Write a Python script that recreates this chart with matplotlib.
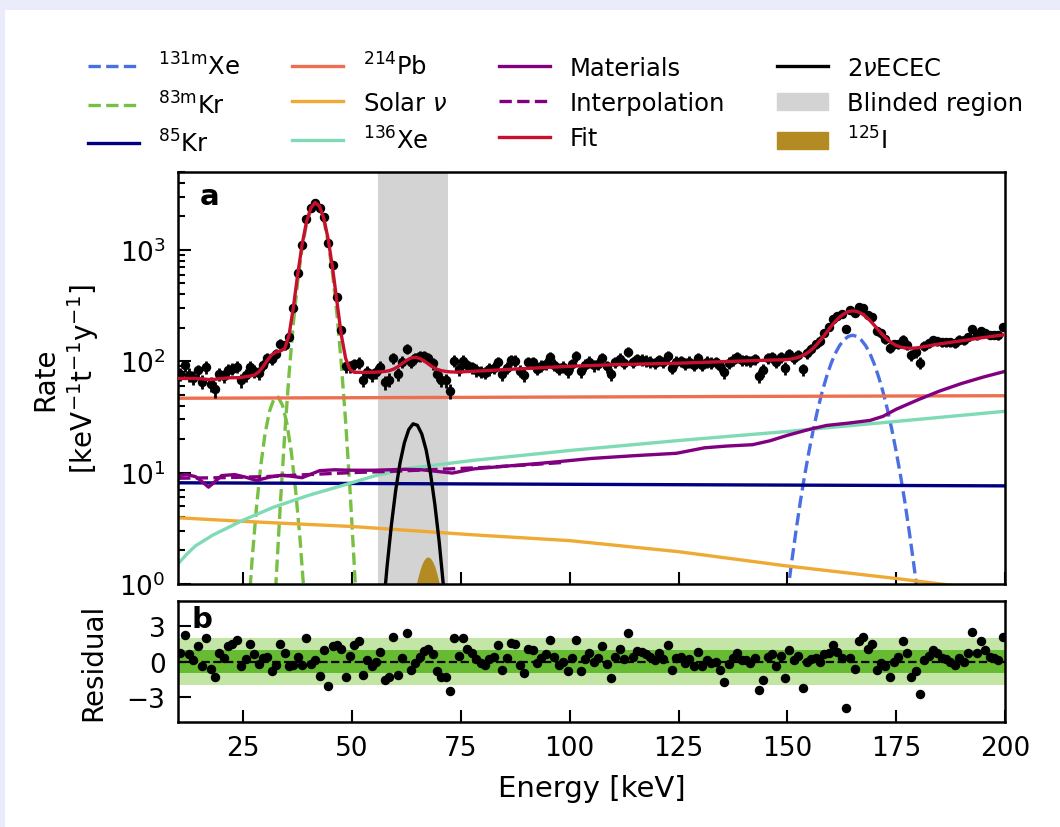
import numpy as np
import matplotlib
matplotlib.use("Agg")
import matplotlib.pyplot as plt
from matplotlib.patches import Patch, Rectangle

plt.rcParams['font.family'] = ['DejaVu Sans']
plt.rcParams['mathtext.fontset'] = 'dejavusans'

## measured spectrum, 1 keV bins
energy = np.arange(10.5, 200, 1.0)
rate = [
    76.9, 92.0, 75.9, 71.0, 82.7, 65.6, 88.4, 62.7, 55.9, 76.3,
    73.4, 83.8, 85.8, 88.7, 67.5, 74.5, 88.5, 81.1, 77.9, 92.3,
    106.4, 104.0, 117.1, 142.9, 138.9, 165.4, 299.5, 617, 1104, 1875,
    2365, 2659, 2395, 1961, 1157, 729, 374, 190, 90.3, 89.8,
    94.1, 97.2, 68.0, 80.5, 75.3, 79.5, 88.7, 64.6, 68.4, 107.5,
    77.1, 98.7, 129.9, 98.4, 107.2, 111.0, 111.5, 107.1, 95.5, 76.2,
    68.5, 67.3, 54.0, 100.9, 85.0, 101.1, 92.1, 88.3, 83.5, 80.7,
    79.0, 84.7, 87.3, 98.4, 76.3, 87.4, 101.8, 101.2, 82.2, 74.9,
    98.1, 97.5, 85.9, 90.7, 94.4, 108.0, 93.0, 85.7, 89.4, 80.9,
    93.5, 110.5, 81.8, 93.3, 99.2, 91.7, 95.3, 106.9, 90.3, 77.1,
    97.6, 105.7, 95.8, 120.9, 98.4, 104.3, 103.4, 101.3, 99.2, 96.0,
    103.0, 97.6, 111.4, 87.7, 99.3, 100.7, 95.3, 99.0, 92.5, 106.6,
    93.0, 99.1, 97.1, 98.6, 90.7, 79.3, 97.1, 103.3, 108.2, 101.5,
    101.8, 99.8, 104.8, 73.3, 83.5, 106.9, 109.6, 98.0, 109.0, 86.8,
    115.9, 107.0, 114.4, 84.3, 117.9, 128.7, 141.7, 152.5, 180.0, 203.7,
    239.7, 252.8, 263.4, 196.4, 287.2, 270.0, 307.8, 300.5, 262.3, 247.2,
    187.7, 178.5, 158.1, 132.7, 142.2, 141.7, 155.7, 140.8, 113.6, 120.8,
    96.7, 136.7, 144.4, 153.5, 151.7, 148.2, 148.7, 147.8, 145.4, 155.9,
    153.6, 165.9, 194.6, 170.3, 187.3, 179.0, 172.0, 172.6, 171.5, 204.2,
]
residual = [
    0.7, 2.25, 0.6, 0.1, 1.3, -0.4, 2.0, -0.6, -1.3, 0.7,
    0.3, 1.3, 1.5, 1.8, -0.4, 0.2, 1.5, 0.6, -0.2, 0.3,
    0.4, -0.8, -0.3, 1.5, 0.7, -0.4, -0.3, 0.4, -0.3, 2.0,
    -0.2, 0.1, -1.2, 1.0, -2.05, 1.3, 1.4, 1.1, -1.3, 0.5,
    1.4, 1.7, -1.1, 0.1, -0.4, 0.0, 0.8, -1.55, -1.3, 2.1,
    -1.1, 0.3, 2.4, -0.7, -0.1, 0.4, 0.9, 1.1, 0.6, -0.8,
    -1.3, -1.3, -2.5, 2.0, 0.5, 2.0, 1.1, 0.7, 0.2, -0.1,
    -0.3, 0.2, 0.4, 1.4, -0.7, 0.3, 1.6, 1.5, -0.3, -1.0,
    1.1, 1.0, -0.1, 0.3, 0.6, 1.8, 0.4, -0.3, 0.0, -0.8,
    0.3, 1.8, -0.8, 0.2, 0.7, 0.0, 0.3, 1.3, -0.2, -1.4,
    0.4, 1.1, 0.2, 2.4, 0.4, 0.9, 0.8, 0.6, 0.4, 0.1,
    0.7, 0.2, 1.4, -0.7, 0.3, 0.4, -0.1, 0.2, -0.4, 0.8,
    -0.4, 0.1, -0.1, 0.0, -0.7, -1.7, -0.2, 0.3, 0.7, 0.1,
    0.1, -0.1, 0.3, -2.4, -1.55, 0.4, 0.6, -0.4, 0.5, -1.4,
    1.0, 0.1, 0.5, -2.25, 0.0, 0.2, 0.3, 0.0, 0.6, 0.7,
    1.4, 0.8, 0.3, -3.95, 0.3, -0.6, 1.7, 2.1, 1.1, 1.5,
    -0.7, -0.1, -0.4, -1.3, 0.0, 0.4, 1.7, 0.7, -1.3, -0.8,
    -2.7, 0.1, 0.5, 1.0, 0.7, 0.3, 0.2, 0.0, -0.3, 0.3,
    0.0, 0.7, 2.5, 0.7, 1.7, 1.0, 0.4, 0.3, 0.1, 2.1,
]
exposure = 0.73  # t*y, poisson error bars

## model components
xe131_e = np.arange(150, 181, 1.0)
xe131 = [0.79, 1.57, 3.0, 5.5, 9.5, 15.6, 24.6, 37, 53, 72, 94, 117, 138, 155, 167, 171,
         167, 155, 138, 117, 94, 72, 53, 37, 24.6, 15.6, 9.5, 5.5, 3.0, 1.57, 0.79]

kr83_e = [32, 32.5, 33.5, 34.5, 35.5, 36.5, 37.5, 38.5, 39.5, 40.5, 41.5, 42.5, 43.5,
          44.5, 45.5, 46.5, 47.5, 48.5, 49.5, 50.5, 51]
kr83 = [0.43, 1.03, 5.2, 21.9, 76.6, 221, 527, 1040, 1701, 2301, 2578, 2390, 1834,
        1165, 613, 267, 96, 28.7, 7.1, 1.44, 0.61]
kr83_low_e = np.arange(26, 41, 1.0)
kr83_low = [0.45, 1.63, 4.8, 11.5, 22.5, 35.5, 45.6, 47.6, 40.2, 27.7, 15.5, 7.0, 2.6, 0.77, 0.19]

kr85_e = [10, 100, 200]
kr85 = [8.1, 7.85, 7.6]

pb214_e = [10, 50, 100, 150, 200]
pb214 = [46.5, 47.0, 47.7, 48.4, 49.0]

solar_e = [10, 25, 50, 78, 100, 125, 150, 175, 200]
solar = [3.93, 3.65, 3.28, 2.76, 2.45, 1.95, 1.45, 1.12, 0.85]

xe136_e = [10, 12, 14, 18, 25, 32, 40, 48, 55, 63, 70, 78, 90, 100, 125, 150, 175, 200]
xe136 = [1.52, 1.85, 2.2, 2.75, 3.75, 4.9, 6.25, 7.7, 9.3, 10.9, 11.8, 12.9, 14.4, 15.8,
         19.4, 23.4, 28.8, 35.5]

mat_e = [10, 12, 14, 15.5, 17, 18.5, 20, 23, 25.5, 28, 31, 34, 38.5, 42.5, 46, 50, 55, 62,
         66, 70, 73, 78, 85, 92, 98, 105, 115, 124.5, 131, 136, 142, 146, 150, 155, 159,
         164, 169, 172, 175, 180, 185, 190, 195, 200]
mat = [9.4, 9.6, 9.2, 8.3, 7.4, 8.3, 9.4, 9.6, 9.1, 8.5, 9.1, 9.5, 9.0, 10.4, 10.6, 10.5,
       10.5, 10.7, 10.6, 10.2, 9.9, 10.8, 11.4, 12.0, 12.6, 13.4, 14.2, 14.9, 16.7, 17.3,
       17.8, 19.3, 21.6, 24.4, 26.5, 27.8, 29.4, 32, 37, 45, 54, 63, 72, 81]

interp_e = [10, 20, 30, 40, 50, 60, 70, 80, 90, 98]
interp = [8.9, 9.0, 9.2, 9.6, 10.0, 10.3, 10.7, 11.1, 11.7, 12.3]

fit_e = [10, 12, 14, 15.5, 17, 18.5, 20, 22, 24, 25.5, 26.5, 27.5, 28.5, 29.5, 30.5, 31.5,
         32.5, 33.5, 34.5, 35.5, 36.5, 37.5, 38.5, 39.5, 40.5, 41.5, 42.5, 43.5, 44.5, 45.5,
         46.5, 47.5, 48.5, 49.5, 50.5, 52, 55, 56.5, 57.5, 58.5, 59.5, 60.5, 61.5, 62.5,
         63.5, 64.5, 65.5, 66.5, 67.5, 68.5, 69.5, 70.5, 71.5, 72.5, 74, 80, 85, 90, 95,
         100, 105, 110, 115, 120, 125, 130, 135, 140, 145, 150, 151, 152, 153, 154, 155,
         156, 157, 158, 159, 160, 161, 162, 163, 164, 165, 166, 167, 168, 169, 170, 171,
         172, 173, 174, 175, 176, 177, 178, 179, 180, 185, 190, 195, 200]
fit = [70, 70, 70, 69.5, 68.5, 68.8, 70, 71, 71.2, 72.5, 73.5, 75, 80, 89, 101.7, 114,
       121, 123.4, 129.6, 171.5, 305.6, 605.5, 1116, 1776, 2376, 2653, 2465, 1910, 1241, 689,
       344, 173, 106, 84.4, 79.5, 79.5, 79.6, 80.3, 80.9, 82.2, 84.9, 89.3, 95.3, 101.6,
       106.9, 108.4, 106.2, 100.9, 94.6, 88.9, 84.8, 82.3, 81.0, 80.2, 79.8, 82, 84, 86, 88,
       90, 91.5, 93, 94, 95, 96, 97.5, 99, 100.5, 102, 103.4, 104.8, 106.9, 110, 114.7, 121.5,
       131.3, 144.5, 161, 181, 204, 227, 249, 266, 279, 283, 280, 269, 252, 232, 210, 189,
       171.5, 157, 146, 138.6, 134, 131.8, 131, 131, 132, 143, 152.5, 163, 173]

ecec_e = np.arange(57, 73, 1.0)
ecec = [0.51, 1.40, 3.34, 6.9, 12.2, 18.5, 24.3, 27.4, 26.6, 22.2, 16.0, 9.9, 5.2, 2.4, 0.94, 0.32]

i125_e = [64.5, 65, 65.5, 66, 66.5, 67, 67.5, 68, 68.5, 69, 69.5, 70, 70.5]
i125 = [0.89, 1.10, 1.31, 1.50, 1.64, 1.73, 1.75, 1.70, 1.59, 1.43, 1.23, 1.02, 0.81]

blind = (56, 72)

## colours
c_xe131 = '#4a6fe3'
c_kr83 = '#77c043'
c_kr85 = '#000080'
c_pb = '#ec6f50'
c_solar = '#efa935'
c_xe136 = '#7fdbb5'
c_mat = '#800080'
c_fit = '#c8102e'
c_i125 = '#b38b22'
c_blind = '#d3d3d3'

fs_tick = 19
fs_label = 20

fig = plt.figure(figsize=(10.6, 8.28), dpi=100)
fig.patch.set_facecolor('#eaecfb')
fig.add_artist(Rectangle((5 / 1060, 0), 1, 1 - 11 / 828, transform=fig.transFigure,
                         facecolor='white', edgecolor='none', zorder=-10))

ax1 = fig.add_axes([0.168, 0.2935, 0.780, 0.4976])
ax2 = fig.add_axes([0.168, 0.1268, 0.780, 0.146])

lw = 2.4
ax1.axvspan(blind[0], blind[1], color=c_blind, lw=0, zorder=0)
h_xe131, = ax1.plot(xe131_e, xe131, '--', color=c_xe131, lw=lw)
h_kr83, = ax1.plot(kr83_e, kr83, '--', color=c_kr83, lw=lw)
ax1.plot(kr83_low_e, kr83_low, '--', color=c_kr83, lw=lw)
h_kr85, = ax1.plot(kr85_e, kr85, color=c_kr85, lw=lw)
h_pb, = ax1.plot(pb214_e, pb214, color=c_pb, lw=lw)
h_solar, = ax1.plot(solar_e, solar, color=c_solar, lw=lw)
h_xe136, = ax1.plot(xe136_e, xe136, color=c_xe136, lw=lw)
h_mat, = ax1.plot(mat_e, mat, color=c_mat, lw=lw)
h_interp, = ax1.plot(interp_e, interp, '--', color=c_mat, lw=lw)
h_ecec, = ax1.plot(ecec_e, ecec, color='black', lw=lw)
ax1.fill_between(i125_e, 0.1, i125, color=c_i125, lw=0)

rate = np.array(rate)
ax1.errorbar(energy, rate, yerr=np.sqrt(rate / exposure), fmt='o', color='black',
             ms=5.8, elinewidth=2.0, capsize=0, zorder=4)
h_fit, = ax1.plot(fit_e, fit, color=c_fit, lw=lw, zorder=5)

ax1.set_yscale('log')
ax1.set_xlim(10, 200)
ax1.set_ylim(1, 5000)
ax1.set_xticks(range(25, 201, 25))
ax1.tick_params(which='both', direction='in', labelsize=fs_tick, width=1.5, pad=9,
                labelbottom=False, top=False, right=False)
ax1.tick_params(which='major', length=9)
ax1.tick_params(which='minor', length=5)
ax1.set_ylabel('Rate\n[keV$^{-1}$t$^{-1}$y$^{-1}$]', fontsize=fs_label, labelpad=13)
ax1.text(0.026, 0.975, 'a', transform=ax1.transAxes, fontsize=21, fontweight='bold',
         va='top', ha='left')

## residual panel
ax2.axhspan(-2, 2, color='#c3e5a5', lw=0, zorder=0)
ax2.axhspan(-1, 1, color='#66bb33', lw=0, zorder=1)
ax2.axhline(0, color='black', ls='--', lw=1.6, zorder=2)
ax2.plot(energy, residual, 'o', color='black', ms=5.8, zorder=3)
ax2.set_xlim(10, 200)
ax2.set_ylim(-5.1, 5.1)
ax2.set_xticks(range(25, 201, 25))
ax2.set_yticks([-3, 0, 3])
ax2.tick_params(which='both', direction='in', labelsize=fs_tick, width=1.5, length=9,
                top=False, right=False, pad=9)
ax2.set_ylabel('Residual', fontsize=fs_label, labelpad=14)
ax2.set_xlabel('Energy [keV]', fontsize=fs_label + 1, labelpad=10)
ax2.text(0.016, 0.97, 'b', transform=ax2.transAxes, fontsize=21, fontweight='bold',
         va='top', ha='left')

for ax in (ax1, ax2):
    for s in ax.spines.values():
        s.set_linewidth(1.8)

handles = [h_xe131, h_kr83, h_kr85, h_pb, h_solar, h_xe136, h_mat, h_interp, h_fit,
           h_ecec, Patch(color=c_blind), Patch(color=c_i125)]
labels = [r'$^{131\mathrm{m}}$Xe', r'$^{83\mathrm{m}}$Kr', r'$^{85}$Kr', r'$^{214}$Pb',
          r'Solar $\nu$', r'$^{136}$Xe', 'Materials', 'Interpolation', 'Fit',
          r'2$\nu$ECEC', 'Blinded region', r'$^{125}$I']
fig.legend(handles, labels, ncol=4, loc='upper center', bbox_to_anchor=(0.524, 0.962),
           frameon=False, fontsize=17.5, handlelength=2.1, handletextpad=0.8,
           columnspacing=2.13, labelspacing=0.47)

fig.savefig('out.png', dpi=100, facecolor=fig.get_facecolor())
